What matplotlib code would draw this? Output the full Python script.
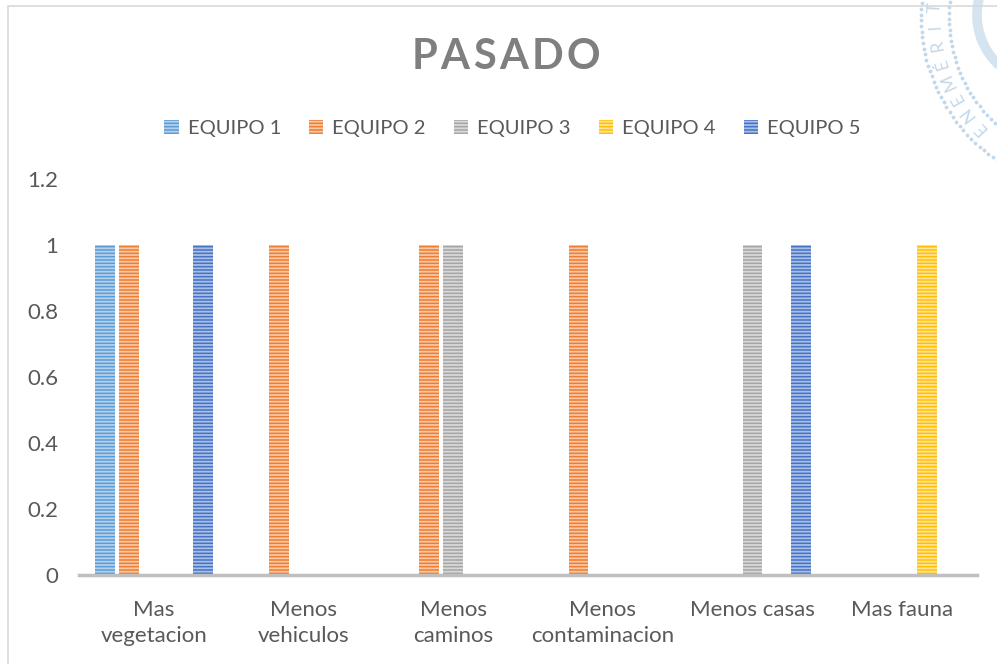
import matplotlib
matplotlib.use("Agg")
from matplotlib import pyplot as plt
from matplotlib.patches import Rectangle
import numpy as np

categories = ["Mas\nvegetacion", "Menos\nvehiculos", "Menos\ncaminos",
              "Menos\ncontaminacion", "Menos casas", "Mas fauna"]
series_names = ["EQUIPO 1", "EQUIPO 2", "EQUIPO 3", "EQUIPO 4", "EQUIPO 5"]
equipo1 = [1, 0, 0, 0, 0, 0]
equipo2 = [1, 1, 1, 1, 0, 0]
equipo3 = [0, 0, 1, 0, 1, 0]
equipo4 = [0, 0, 0, 0, 0, 1]
equipo5 = [1, 0, 0, 0, 1, 0]
values = [equipo1, equipo2, equipo3, equipo4, equipo5]
title = "PASADO"

colors = ["#5B9BD5", "#ED7D31", "#A5A5A5", "#FFC000", "#4472C4"]
light = ["#B4D1EC", "#F8C7A5", "#D8D8D8", "#FFE39A", "#A9BFE6"]

plt.rcParams['font.family'] = ['Lato', 'DejaVu Sans']
plt.rcParams['hatch.linewidth'] = 1.3

fig = plt.figure(figsize=(9.97, 6.64), dpi=100)

# faint seal watermark in the top right corner (pixel coordinates overlay)
wm = fig.add_axes([0, 0, 1, 1], zorder=-1)
wm.set_xlim(0, 997)
wm.set_ylim(664, 0)
wm.axis('off')
cx, cy = 1094, 17
wm_col = '#C2D8EA'
for r in (173, 145):
    th = np.radians(np.arange(120, 200, 1.9 if r == 173 else 2.2))
    wm.plot(cx + r * np.cos(th), cy + r * np.sin(th), ls='none', marker='o',
            ms=1.7, color=wm_col)
word = "ENEMÉRIT"
for k, ch in enumerate(word):
    th = 135.8 + k * 6.8
    tr = np.radians(th)
    wm.text(cx + 159 * np.cos(tr), cy + 159 * np.sin(tr), ch, fontsize=12.5,
            color=wm_col, ha='center', va='center', rotation=-th - 90)
th = np.radians(np.arange(120, 215, 2))
wm.plot(1045 + 68 * np.cos(th), 15 + 68 * np.sin(th), color='#D5E4F1',
        lw=7, solid_capstyle='round')

ax = fig.add_axes([0.0792, 0.134, 0.9008, 0.5964])

x = np.arange(len(categories))
step = 0.163
width = 0.133
for i, (name, vals) in enumerate(zip(series_names, values)):
    pos = x + (i - 2) * step
    ax.bar(pos, vals, width, color=colors[i], hatch='-----',
           edgecolor=light[i], linewidth=0, label=name)

ax.set_xlim(-0.5, len(categories) - 0.5)
ax.set_ylim(0, 1.2)
ax.set_yticks([0, 0.2, 0.4, 0.6, 0.8, 1, 1.2])
ax.set_yticklabels(["0", "0.2", "0.4", "0.6", "0.8", "1", "1.2"])
ax.set_xticks(x)
ax.set_xticklabels(categories, linespacing=1.38)
ax.tick_params(axis='both', length=0, labelsize=16, colors='#595959')
ax.tick_params(axis='y', pad=15)
ax.tick_params(axis='x', pad=18)
for s in ['top', 'right', 'left']:
    ax.spines[s].set_visible(False)
ax.spines['bottom'].set_color('#BFBFBF')
ax.spines['bottom'].set_linewidth(2.5)

# spaced-out bold title, letter by letter
renderer = fig.canvas.get_renderer()
gap = 3.5
letters = [fig.text(0, 0.914, ch, ha='left', va='center', fontsize=30,
                    fontweight='bold', color='#7F7F7F') for ch in title]
widths = [t.get_window_extent(renderer).width for t in letters]
total = sum(widths) + gap * (len(letters) - 1)
xpos = 506 - total / 2
for t, w in zip(letters, widths):
    t.set_x(xpos / 997)
    xpos += w + gap

leg = fig.legend(loc='center', bbox_to_anchor=(0.514, 0.807), ncol=5,
                 frameon=False, fontsize=14.5, handlelength=0.7,
                 handleheight=0.7, handletextpad=0.45, columnspacing=1.4)
for t in leg.get_texts():
    t.set_color('#595959')

# chart border
fig.patches.append(Rectangle((8 / 997, -0.1), 1.2, 1.1 - 6 / 664,
                             transform=fig.transFigure, fill=False,
                             edgecolor='#D9D9D9', linewidth=1.2))

fig.savefig("out.png", dpi=100)
